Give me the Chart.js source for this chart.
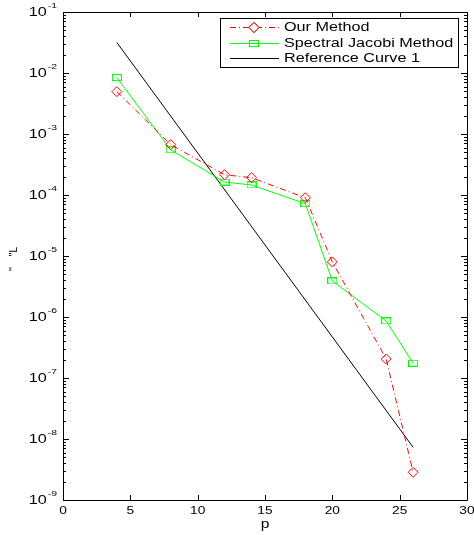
<!DOCTYPE html>
<html>
<head>
<meta charset="utf-8">
<script src="https://cdn.jsdelivr.net/npm/chart.js@4/dist/chart.umd.min.js"></script>
<style>
  body { margin: 0; background: #fff; }
</style>
</head>
<body>
<canvas id="myChart" width="474" height="535"></canvas>
<script>
// values
const pValues = [4, 8, 12, 14, 18, 20, 24, 26];
const ourMethod = [4.95e-3, 6.7e-4, 2.15e-4, 1.92e-4, 9.0e-5, 8.0e-6, 2.05e-7, 2.85e-9];
const spectralJacobi = [8.4e-3, 5.5e-4, 1.63e-4, 1.46e-4, 7.2e-5, 3.9e-6, 8.6e-7, 1.75e-7];
const refP = [4, 26];
const refCurve = [3.16e-2, 7.3e-9];
const xTicks = [0, 5, 10, 15, 20, 25, 30];
const yExponents = [-9, -8, -7, -6, -5, -4, -3, -2, -1];
const legendLabels = ['Our Method', 'Spectral Jacobi Method', 'Reference Curve 1'];

const FONT = '"Liberation Sans", Arial, sans-serif';

// matlab style square, a little wider than tall
const squareMark = document.createElement('canvas');
squareMark.width = 10;
squareMark.height = 7;
(function(){
  const c = squareMark.getContext('2d');
  c.strokeStyle = '#00ff00';
  c.lineWidth = 1;
  c.strokeRect(0.5, 0.5, 9, 6);
})();

function pairs(xs, ys){
  return xs.map((x, i) => ({x: x, y: ys[i]}));
}

function txt(ctx, s, x, y, size, align, sx, baseline){
  ctx.save();
  ctx.font = size + 'px ' + FONT;
  ctx.translate(x, y);
  ctx.scale(sx, 1);
  ctx.textAlign = align;
  ctx.textBaseline = baseline || 'middle';
  ctx.fillStyle = '#000';
  ctx.fillText(s, 0, 0);
  ctx.restore();
}

const framePlugin = {
  id: 'frame',
  afterDraw(chart){
    const ctx = chart.ctx;
    const a = chart.chartArea;
    const xs = chart.scales.x, ys = chart.scales.y;
    ctx.save();
    ctx.strokeStyle = '#000';
    ctx.lineWidth = 1;
    ctx.beginPath();
    // box
    ctx.rect(Math.round(a.left) + 0.5, Math.round(a.top) + 0.5,
             Math.round(a.right - a.left), Math.round(a.bottom - a.top));
    // x ticks, bottom and top
    xTicks.forEach(v => {
      const px = Math.round(xs.getPixelForValue(v)) + 0.5;
      ctx.moveTo(px, a.bottom); ctx.lineTo(px, a.bottom - 5);
      ctx.moveTo(px, a.top); ctx.lineTo(px, a.top + 5);
    });
    // y ticks, major and minor, left and right
    yExponents.forEach(e => {
      for (let k = 1; k <= 9; k++){
        if (k > 1 && e === -1) break;
        const py = Math.round(ys.getPixelForValue(k * Math.pow(10, e))) + 0.5;
        const len = k === 1 ? 6 : 3;
        ctx.moveTo(a.left, py); ctx.lineTo(a.left + len, py);
        ctx.moveTo(a.right, py); ctx.lineTo(a.right - len, py);
      }
    });
    ctx.stroke();
    ctx.restore();

    // tick labels
    xTicks.forEach(v => {
      txt(ctx, String(v), xs.getPixelForValue(v), 511, 11, 'center', 1.25);
    });
    yExponents.forEach(e => {
      const py = ys.getPixelForValue(Math.pow(10, e));
      txt(ctx, String(e), 57, py - 6, 8, 'right', 1.3);
      ctx.save();
      ctx.font = '8px ' + FONT;
      const w = ctx.measureText(String(e)).width * 1.3;
      ctx.restore();
      txt(ctx, '10', 57 - w - 1, py + 1, 12, 'right', 1.35);
    });

    // axis titles
    txt(ctx, 'p', (a.left + a.right) / 2, 525, 12, 'center', 1.3);
    ctx.save();
    ctx.translate(17, 271);
    ctx.rotate(-Math.PI / 2);
    ctx.font = '10px ' + FONT;
    ctx.fillStyle = '#000';
    ctx.textBaseline = 'alphabetic';
    ctx.fillText("''", 0, 0);
    ctx.fillText("''", 14.5, 0);
    ctx.fillText('L', 18.5, 0);
    ctx.restore();

    // legend
    const lx = 220, ly = 18, lw = 238, lh = 49;
    ctx.save();
    ctx.fillStyle = '#fff';
    ctx.fillRect(lx, ly, lw, lh);
    ctx.strokeStyle = '#000';
    ctx.lineWidth = 1;
    ctx.strokeRect(lx + 0.5, ly + 0.5, lw, lh);
    const rows = [27, 43, 58];
    chart.data.datasets.forEach((ds, i) => {
      const y = rows[i] + 0.5;
      ctx.save();
      ctx.strokeStyle = ds.borderColor;
      ctx.lineWidth = ds.borderWidth;
      ctx.setLineDash(ds.borderDash || []);
      ctx.beginPath();
      ctx.moveTo(230, y); ctx.lineTo(279, y);
      ctx.stroke();
      ctx.restore();
      if (ds.pointStyle === 'rectRot'){
        Chart.helpers.drawPoint(ctx, {
          pointStyle: 'rectRot', radius: ds.pointRadius, borderWidth: 1
        }, 254, y);
        ctx.save();
        ctx.strokeStyle = ds.borderColor;
        ctx.beginPath();
        ctx.moveTo(254, y - 5); ctx.lineTo(259, y); ctx.lineTo(254, y + 5); ctx.lineTo(249, y); ctx.closePath();
        ctx.fillStyle = '#fff'; ctx.fill(); ctx.stroke();
        ctx.restore();
      } else if (ds.pointStyle === squareMark){
        ctx.drawImage(squareMark, 249, Math.round(y - 3.5));
      }
      txt(ctx, legendLabels[i], 284, rows[i] + 1, 12, 'left', 1.35);
    });
    ctx.restore();
  }
};

const data = {
  datasets: [{
    label: legendLabels[0],
    data: pairs(pValues, ourMethod),
    borderColor: '#ff0000',
    backgroundColor: 'rgba(0,0,0,0)',
    borderWidth: 1,
    borderDash: [6, 3, 1, 3],
    pointStyle: 'rectRot',
    pointRadius: 5,
    pointBorderColor: '#ff0000',
    pointBackgroundColor: 'rgba(0,0,0,0)',
    pointBorderWidth: 1
  }, {
    label: legendLabels[1],
    data: pairs(pValues, spectralJacobi),
    borderColor: '#00ff00',
    backgroundColor: 'rgba(0,0,0,0)',
    borderWidth: 1,
    pointStyle: squareMark,
    pointRadius: 5
  }, {
    label: legendLabels[2],
    data: pairs(refP, refCurve),
    borderColor: '#000000',
    backgroundColor: 'rgba(0,0,0,0)',
    borderWidth: 1,
    pointRadius: 0
  }]
};

const config = {
  type: 'line',
  data: data,
  options: {
    responsive: false,
    devicePixelRatio: 1,
    animation: false,
    layout: { padding: { left: 0, top: 12, right: 7, bottom: 0 } },
    plugins: { legend: { display: false }, tooltip: { enabled: false } },
    scales: {
      x: {
        type: 'linear', min: 0, max: 30,
        grid: { display: false }, border: { display: false },
        ticks: { display: false },
        afterFit: s => { s.height = 35; }
      },
      y: {
        type: 'logarithmic', min: 1e-9, max: 1e-1,
        grid: { display: false }, border: { display: false },
        ticks: { display: false },
        afterFit: s => { s.width = 63; }
      }
    }
  },
  plugins: [framePlugin]
};

const myChart = new Chart(document.getElementById('myChart'), config);
</script>
</body>
</html>
